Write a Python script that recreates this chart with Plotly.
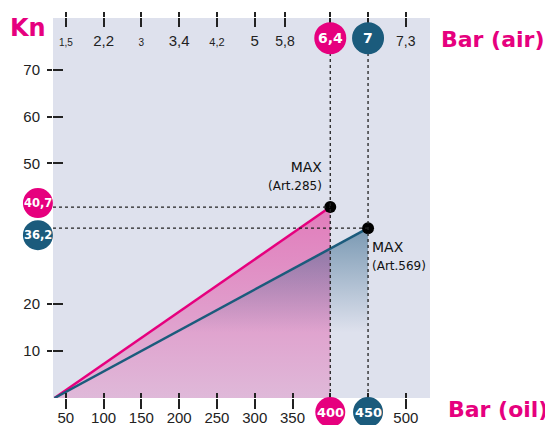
import plotly.graph_objects as go

# ---------------- data ----------------
oil_ticks = [50, 100, 150, 200, 250, 300, 350, 400, 450, 500]
oil_labels = ["50", "100", "150", "200", "250", "300", "350", "400", "450", "500"]
air_tick_pos = [50, 100, 150, 200, 250, 300, 340, 400, 450, 500]
air_labels = ["1,5", "2,2", "3", "3,4", "4,2", "5", "5,8", "6,4", "7", "7,3"]
kn_ticks = [10, 20, 50, 60, 70]

series_names = ["Art.285", "Art.569"]
oil_start = [35, 35]
kn_start = [0, 0]
oil_max = [400, 450]
kn_max = [40.7, 36.2]
air_max = ["6,4", "7"]

# ---------------- style ----------------
PINK = "#e6007e"
TEAL = "#1b5b7c"
BG = "#dee1ed"
X_RANGE = [33, 532]
Y_RANGE = [0, 81]
TICK_FAMILY = "Liberation Sans, Arial, sans-serif"
TICK_FONT = dict(family=TICK_FAMILY, size=15, color="#222")
air_label_sizes = [10, 15, 10, 15, 11, 15, 14, 14, 14, 14]
series_colors = [PINK, TEAL]
fill_scales = [
    [[0, "rgba(229,0,126,0.18)"], [1, "rgba(229,0,126,0.45)"]],
    [[0, "rgba(55,105,140,0)"], [1, "rgba(55,105,140,0.6)"]],
]
fill_starts = [0, 14]


def fmt(v):
    return ("%g" % v).replace(".", ",")


fig = go.Figure()

# gradient fills
for i in range(2):
    fig.add_trace(go.Scatter(
        x=[oil_start[i], oil_max[i], oil_max[i]],
        y=[kn_start[i], kn_max[i], kn_start[i]],
        mode="lines", fill="toself", line=dict(width=0),
        fillgradient=dict(type="vertical", colorscale=fill_scales[i],
                          start=fill_starts[i], stop=kn_max[i]),
        hoverinfo="skip", showlegend=False))

# lines
for i in range(2):
    fig.add_trace(go.Scatter(
        x=[oil_start[i], oil_max[i]], y=[kn_start[i], kn_max[i]],
        mode="lines", line=dict(color=series_colors[i], width=2.5),
        hoverinfo="skip", showlegend=False, cliponaxis=False))

# max points
fig.add_trace(go.Scatter(x=oil_max, y=kn_max, mode="markers",
                         marker=dict(color="black", size=12),
                         hoverinfo="skip", showlegend=False, cliponaxis=False))

shapes = []
annotations = []
# dotted guide lines
for i in range(2):
    shapes.append(dict(type="line", xref="x", yref="paper", x0=oil_max[i], x1=oil_max[i],
                       y0=0, y1=0.95, line=dict(color="#222", width=1.3, dash="dot")))
    shapes.append(dict(type="line", xref="x", yref="y", x0=X_RANGE[0], x1=oil_max[i],
                       y0=kn_max[i], y1=kn_max[i], line=dict(color="#222", width=1.3, dash="dot")))

R = 15
left_offsets = [4, -7]
badge_font = "DejaVu Sans"
for i in range(2):
    c = series_colors[i]
    # top (air) badge
    shapes.append(dict(type="circle", xref="x", yref="paper", xsizemode="pixel", ysizemode="pixel",
                       xanchor=oil_max[i], yanchor=0.947, x0=-R - 1, x1=R + 1, y0=-R - 1, y1=R + 1,
                       fillcolor=c, line=dict(width=0)))
    annotations.append(dict(x=oil_max[i], y=0.947, xref="x", yref="paper", xanchor="center",
                            yanchor="middle", text="<b>%s</b>" % air_max[i], showarrow=False,
                            font=dict(family=badge_font, size=14, color="white")))
    # bottom (oil) badge
    shapes.append(dict(type="circle", xref="x", yref="paper", xsizemode="pixel", ysizemode="pixel",
                       xanchor=oil_max[i], yanchor=-0.037, x0=-R, x1=R, y0=-R, y1=R,
                       fillcolor=c, line=dict(width=0)))
    annotations.append(dict(x=oil_max[i], y=-0.037, xref="x", yref="paper", xanchor="center",
                            yanchor="middle", text="<b>%d</b>" % oil_max[i], showarrow=False,
                            font=dict(family=badge_font, size=13, color="white")))
    # left (kN) badge
    off = left_offsets[i]
    shapes.append(dict(type="circle", xref="paper", yref="y", xsizemode="pixel", ysizemode="pixel",
                       xanchor=-0.04, yanchor=kn_max[i], x0=-R, x1=R, y0=-R + off, y1=R + off,
                       fillcolor=c, line=dict(width=0)))
    annotations.append(dict(x=-0.04, y=kn_max[i], xref="paper", yref="y", xanchor="center",
                            yanchor="middle", yshift=off, text="<b>%s</b>" % fmt(kn_max[i]),
                            showarrow=False, font=dict(family=badge_font, size=11.5, color="white")))

# MAX labels
annotations.append(dict(x=oil_max[0], y=kn_max[0], xref="x", yref="y", xanchor="right", yanchor="bottom",
                        xshift=-6, yshift=12, align="right", showarrow=False,
                        text="MAX<br><span style='font-size:12px'>(%s)</span>" % series_names[0],
                        font=dict(family="DejaVu Sans", size=14, color="#111")))
annotations.append(dict(x=oil_max[1], y=kn_max[1], xref="x", yref="y", xanchor="left", yanchor="top",
                        xshift=2, yshift=-9, align="left", showarrow=False,
                        text="MAX<br><span style='font-size:12px'>(%s)</span>" % series_names[1],
                        font=dict(family="DejaVu Sans", size=14, color="#111")))

# axis titles
title_font = dict(family="DejaVu Sans", size=22, color=PINK)
annotations.append(dict(x=-0.119, y=0.975, xref="paper", yref="paper", xanchor="left", yanchor="middle",
                        text="<b>Kn</b>", showarrow=False, font=dict(family="DejaVu Sans", size=24, color=PINK)))
annotations.append(dict(x=1.024, y=0.943, xref="paper", yref="paper", xanchor="left", yanchor="middle",
                        text="<b>Bar (air)</b>", showarrow=False, font=title_font))
annotations.append(dict(x=1.042, y=-0.03, xref="paper", yref="paper", xanchor="left", yanchor="middle",
                        text="<b>Bar (oil)</b>", showarrow=False, font=title_font))

bottom_text = ["" if v in oil_max else t for v, t in zip(oil_ticks, oil_labels)]
top_text = ["" if t in air_max else "<span style='font-size:%dpx'>%s</span>" % (s, t)
            for t, s in zip(air_labels, air_label_sizes)]

common = dict(showgrid=False, zeroline=False, showline=False, tickcolor="#222", tickwidth=1.6,
              automargin=False)
# the page body adds an 8px offset, so the figure is 8px smaller and margins shifted
fig.update_layout(
    template="none",
    width=545, height=417,
    margin=dict(l=45, r=123, t=10, b=27, pad=0),
    paper_bgcolor="white", plot_bgcolor=BG,
    showlegend=False,
    shapes=shapes, annotations=annotations,
    xaxis=dict(range=X_RANGE, tickmode="array", tickvals=oil_ticks, ticktext=bottom_text,
               ticks="outside", ticklen=10, ticklabelstandoff=-4, tickfont=TICK_FONT, **common),
    xaxis2=dict(overlaying="x", matches="x", side="bottom", tickmode="array", tickvals=oil_ticks,
                ticks="inside", ticklen=5, showticklabels=False, anchor="y", **common),
    xaxis3=dict(overlaying="x", matches="x", side="top", tickmode="array", tickvals=air_tick_pos,
                ticktext=top_text, ticks="outside", ticklen=5, ticklabelposition="inside",
                ticklabelstandoff=14, tickfont=TICK_FONT, anchor="y", **common),
    xaxis4=dict(overlaying="x", matches="x", side="top", tickmode="array", tickvals=air_tick_pos,
                ticks="inside", ticklen=9, showticklabels=False, anchor="y", **common),
    yaxis=dict(range=Y_RANGE, tickmode="array", tickvals=kn_ticks, ticks="outside", ticklen=5,
               ticklabelstandoff=4, tickfont=TICK_FONT, **common),
    yaxis2=dict(overlaying="y", matches="y", side="left", tickmode="array", tickvals=kn_ticks,
                ticks="inside", ticklen=10, showticklabels=False, anchor="x", **common),
)
# invisible traces so the extra axes render
for xa, ya in [("x2", "y"), ("x3", "y"), ("x4", "y"), ("x", "y2")]:
    fig.add_trace(go.Scatter(x=[None], y=[None], xaxis=xa, yaxis=ya, showlegend=False, hoverinfo="skip"))

fig.write_html("out.html")
